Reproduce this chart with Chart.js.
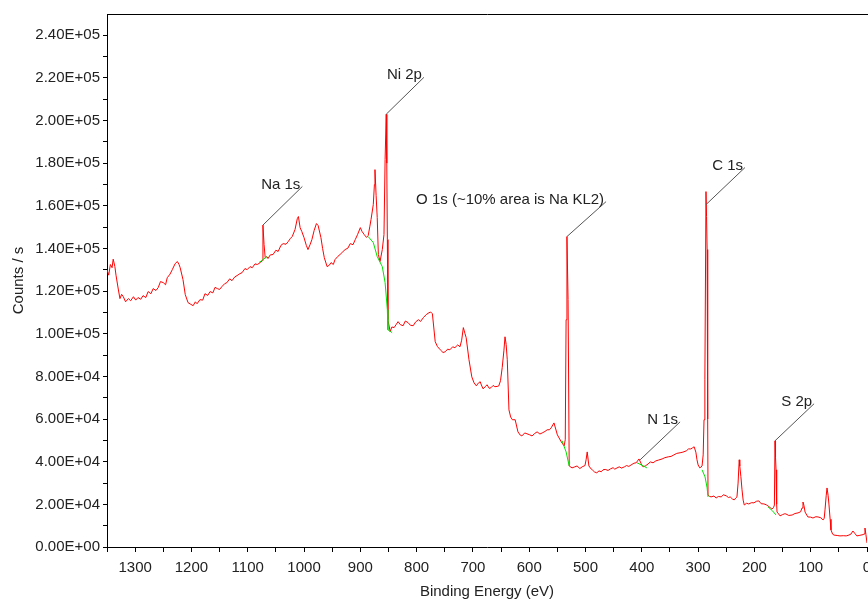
<!DOCTYPE html>
<html>
<head>
<meta charset="utf-8">
<title>XPS survey</title>
<script src="https://cdn.jsdelivr.net/npm/chart.js@4.4.1/dist/chart.umd.min.js"></script>
<style>
  html, body { margin: 0; padding: 0; background: #fff; overflow: hidden; }
  #wrap { width: 868px; height: 612px; }
</style>
</head>
<body>
<div id="wrap"><canvas id="graph" width="868" height="612"></canvas></div>
<script>
// survey spectrum (eV, counts/s)
const energy = [
  1350, 1347, 1344, 1341, 1339, 1336, 1334, 1330, 1327, 1324, 1321, 1317, 1312, 1308, 1303, 1299, 1295, 1290, 1286, 1281,
  1277, 1272, 1268, 1263, 1259, 1255, 1250, 1246, 1243, 1238, 1234, 1229, 1225, 1222, 1220, 1215, 1211, 1206, 1201, 1197,
  1193, 1190, 1185, 1180, 1176, 1171, 1167, 1162, 1158, 1154, 1150, 1146, 1141, 1137, 1132, 1128, 1123, 1119, 1114, 1110,
  1105, 1101, 1096, 1092, 1087, 1083, 1080, 1078, 1074, 1073, 1071, 1069, 1066, 1064, 1060, 1055, 1050, 1046, 1041, 1037,
  1032, 1028, 1024, 1021, 1016, 1012, 1010, 1007, 1004, 1000, 996, 993, 989, 986, 982, 978, 975, 970, 967, 964,
  959, 955, 952, 948, 945, 940, 936, 931, 927, 922, 918, 913, 909, 905, 900, 897, 893, 889, 886, 883,
  881, 877, 875, 874, 872, 870, 868, 865, 861, 858, 856, 854, 853, 852, 851, 847, 844, 840, 836, 833,
  829, 824, 820, 815, 811, 806, 802, 797, 793, 788, 783, 778, 775, 772, 767, 763, 758, 753, 749, 745,
  741, 736, 732, 727, 723, 720, 717, 714, 712, 707, 702, 698, 694, 690, 687, 685, 682, 678, 675, 671,
  668, 664, 661, 657, 654, 651, 648, 645, 643, 641, 639, 636, 633, 630, 625, 620, 616, 613, 608, 604,
  599, 595, 590, 586, 581, 577, 572, 568, 564, 561, 556, 550, 543, 538, 536, 534.5, 533, 531, 529, 524,
  519, 515, 510, 506, 501, 499, 497, 494, 490, 488, 484, 480, 476, 472, 469, 465, 460, 456, 451, 448,
  444, 440, 436, 431, 427, 423, 419, 414, 410, 405, 401, 398, 394, 389, 385, 380, 375, 370, 364, 359,
  353, 348, 343, 338, 332, 327, 321, 317, 313, 310, 307, 304, 302, 300, 297, 295, 293, 291, 289.5, 288,
  286, 285, 284, 283, 282.4, 280, 277, 272, 268, 264, 259, 255, 250, 246, 243, 239, 236, 233, 231, 229,
  227, 226, 224, 222, 220, 218, 214, 210, 205, 201, 196, 192, 188, 183, 179, 176, 172, 169, 166, 164.5,
  163.4, 162.5, 161.6, 160.5, 159.8, 157, 154.5, 150, 146, 144, 139, 133, 128, 122.5, 118, 115.4, 113.7, 112, 110, 107,
  105, 100, 96, 91, 87, 82, 78, 76, 74.6, 72.5, 71, 69, 67.5, 65.5, 64, 61, 58.6, 53, 48, 42,
  37, 32, 28.4, 25, 22, 18, 14, 10.7, 7, 5.3, 3.6, 2, 0
];
const counts = [
  130000, 127500, 132500, 131000, 135000, 131500, 127500, 121000, 116500, 118500, 117400, 115000, 116500, 115500, 117400, 115800, 117000, 116200, 117900, 117000,
  119800, 118800, 121200, 120300, 121700, 124500, 124000, 123000, 126300, 128000, 130100, 132900, 133900, 132500, 131000, 125400, 118400, 114600, 113800, 113200,
  115000, 114100, 116000, 115800, 118800, 118000, 119800, 119200, 121800, 121200, 120800, 122100, 123500, 124000, 125800, 124900, 126700, 127300, 128200, 128700,
  130600, 130100, 131500, 131000, 132800, 132500, 133000, 133400, 134300, 151000, 141800, 135700, 136200, 135300, 137000, 137200, 139200, 138600, 141500, 142300,
  142000, 143300, 144800, 145600, 148900, 154000, 155000, 149800, 148000, 145100, 141500, 139500, 142000, 144200, 148500, 151700, 150800, 145100, 140000, 135700,
  131500, 132200, 133400, 132500, 134800, 136300, 137200, 138500, 139500, 140200, 142300, 141800, 144200, 146500, 149800, 148000, 146500, 145200, 146100, 150500,
  153600, 160600, 170000, 177000, 165000, 154500, 137200, 133900, 139500, 146500, 181800, 203000, 180000, 144200, 106600, 101000, 103200, 102900, 104500, 105700,
  104300, 103800, 106000, 105200, 104000, 103800, 105500, 106600, 105800, 107600, 109000, 109900, 110200, 109400, 96300, 94000, 92500, 91200, 91600, 92800,
  92500, 93900, 93500, 94800, 93900, 97000, 102900, 100000, 98200, 87800, 79800, 77000, 75600, 77000, 77500, 76000, 74200, 75200, 76100, 74400,
  74700, 75800, 75200, 75300, 75600, 78000, 84100, 92000, 98600, 95000, 87800, 64300, 61000, 59700, 59700, 54000, 52500, 52100, 53500, 53100,
  52600, 52100, 53300, 54000, 53000, 53500, 54200, 55000, 55000, 55900, 58200, 52600, 49300, 47400, 50300, 106600, 145600, 116000, 38000, 37100,
  37600, 38000, 36800, 37600, 38200, 40900, 44600, 38000, 36600, 36200, 35200, 34800, 35700, 35300, 36200, 36400, 35900, 36600, 37200, 36500,
  37100, 37600, 37000, 37600, 38200, 37800, 38500, 39300, 39500, 41300, 39000, 37600, 38000, 38900, 39900, 39500, 40400, 40800, 41300, 41900,
  42300, 42500, 43200, 43900, 44200, 44500, 45100, 46000, 46000, 46500, 47000, 44500, 40900, 38500, 37100, 37500, 38000, 43200, 59700, 78400,
  166700, 155000, 139500, 60000, 24400, 23800, 23500, 23900, 23000, 23700, 23500, 24500, 24000, 23200, 23500, 22500, 22100, 23000, 23500, 30000,
  40900, 38000, 33000, 26800, 22000, 19700, 20500, 20200, 20800, 20700, 21500, 21600, 20300, 20200, 19800, 19300, 18500, 17800, 18500, 19700,
  49800, 42000, 36200, 20000, 16400, 15500, 14600, 15200, 15600, 15500, 14800, 15000, 15700, 16000, 16500, 18300, 21100, 19500, 16400, 15000,
  14100, 14000, 13600, 14200, 14100, 13700, 12700, 13500, 17400, 24000, 27700, 24000, 19700, 13000, 8000, 6000, 5600, 5400, 5200, 5300,
  5200, 5600, 6100, 7500, 6500, 5200, 5400, 5600, 5800, 6100, 8900, 6000, 1900
];

// fitted backgrounds under the peaks (green)
const bgNaE = [1080, 1073, 1066];
const bgNaC = [133400, 134800, 136200];
const bgNiE = [886, 877, 870, 861, 856, 852, 851, 843.5];
const bgNiC = [145600, 142800, 136200, 131500, 124000, 111300, 101900, 100500];
const bgOE = [541.6, 534.5, 529];
const bgOC = [49800, 44600, 38000];
const bgNE = [408.5, 400, 391];
const bgNC = [39500, 38400, 37100];
const bgCE = [293, 287.7, 284, 282.4];
const bgCC = [36200, 32900, 27700, 23500];
const bgSE = [175.8, 168, 161.6];
const bgSC = [18800, 17000, 15000];

// peak annotations: leader line from peak to label
const peakLabels = ['Na 1s', 'Ni 2p', 'O 1s (~10% area is Na KL2)', 'N 1s', 'C 1s', 'S 2p'];
const peakEnergy = [1073, 854, 533, 403, 286, 163.4];
const peakCounts = [151000, 203000, 145600, 40900, 160600, 49800];
const labelEnergy = [1003, 787, 463.5, 332, 216.7, 94];
const labelCounts = [169100, 220300, 162000, 58700, 178000, 67200];

const yTicks = [0, 20000, 40000, 60000, 80000, 100000, 120000, 140000, 160000, 180000, 200000, 220000, 240000];
const xTicks = [1300, 1200, 1100, 1000, 900, 800, 700, 600, 500, 400, 300, 200, 100, 0];

const FONT = "'Liberation Sans', Arial, sans-serif";
const TEXT = '#222';

function pairs(xs, ys) {
  return xs.map((x, i) => ({ x: x, y: ys[i] }));
}

function sci(v) {
  if (v === 0) return '0.00E+00';
  const e = Math.floor(Math.log10(v) + 1e-9);
  const m = v / Math.pow(10, e);
  return m.toFixed(2) + 'E+' + String(e).padStart(2, '0');
}

const datasets = [
  { data: pairs(energy, counts), borderColor: '#ff0000', borderWidth: 1, order: 2 }
];
[[bgNaE, bgNaC], [bgNiE, bgNiC], [bgOE, bgOC], [bgNE, bgNC], [bgCE, bgCC], [bgSE, bgSC]].forEach(b => {
  datasets.push({ data: pairs(b[0], b[1]), borderColor: '#00e000', borderWidth: 1, order: 1 });
});
peakLabels.forEach((lab, i) => {
  datasets.push({
    data: [{ x: peakEnergy[i], y: peakCounts[i] }, { x: labelEnergy[i], y: labelCounts[i] }],
    borderColor: '#555', borderWidth: 1, order: 0
  });
});

const extras = {
  id: 'extras',
  afterDraw(chart) {
    const c = chart.ctx, a = chart.chartArea;
    const xs = chart.scales.x, ys = chart.scales.y;
    c.save();
    c.strokeStyle = '#000';
    c.lineWidth = 1;
    c.beginPath();
    c.moveTo(a.left, a.top + 0.5);
    c.lineTo(chart.width, a.top + 0.5);
    c.stroke();
    c.fillStyle = TEXT;
    c.font = '15px ' + FONT;
    c.textAlign = 'right';
    c.textBaseline = 'middle';
    peakLabels.forEach((lab, i) => {
      const px = xs.getPixelForValue(labelEnergy[i]);
      const py = ys.getPixelForValue(labelCounts[i]);
      c.fillText(lab, px - 2, py - 2);
    });
    c.restore();
  }
};

new Chart(document.getElementById('graph').getContext('2d'), {
  type: 'line',
  data: { datasets: datasets },
  plugins: [extras],
  options: {
    responsive: false,
    animation: false,
    parsing: true,
    layout: { padding: { top: 14, right: 1, left: 0, bottom: 0 } },
    elements: { point: { radius: 0 }, line: { tension: 0 } },
    plugins: { legend: { display: false }, tooltip: { enabled: false } },
    scales: {
      x: {
        type: 'linear',
        reverse: true,
        min: 0,
        max: 1350,
        border: { display: true, color: '#000', width: 1 },
        grid: { drawOnChartArea: false, drawTicks: true, tickLength: 5, color: '#000' },
        ticks: {
          stepSize: 50,
          autoSkip: false,
          maxRotation: 0,
          padding: 7,
          color: TEXT,
          font: { family: FONT, size: 15 },
          callback: v => xTicks.includes(v) ? String(v) : ''
        },
        title: {
          display: true,
          text: 'Binding Energy (eV)',
          color: TEXT,
          font: { family: FONT, size: 15 },
          padding: { top: 0, bottom: 11 }
        },
        afterFit: s => { s.height = 65; s.paddingLeft = 0; s.paddingRight = 0; }
      },
      y: {
        min: 0,
        max: 250000,
        border: { display: true, color: '#000', width: 1 },
        grid: { drawOnChartArea: false, drawTicks: true, tickLength: 4, color: '#000' },
        ticks: {
          stepSize: 10000,
          autoSkip: false,
          padding: 3,
          color: TEXT,
          font: { family: FONT, size: 15 },
          callback: v => yTicks.includes(v) ? sci(v) : ''
        },
        afterBuildTicks: s => { s.ticks = s.ticks.filter(t => t.value < 250000); },
        title: {
          display: true,
          text: 'Counts / s',
          color: TEXT,
          font: { family: FONT, size: 15 },
          padding: { top: 10, bottom: 0 }
        },
        afterFit: s => { s.width = 107; s.paddingTop = 0; s.paddingBottom = 0; }
      }
    }
  }
});
</script>
</body>
</html>
